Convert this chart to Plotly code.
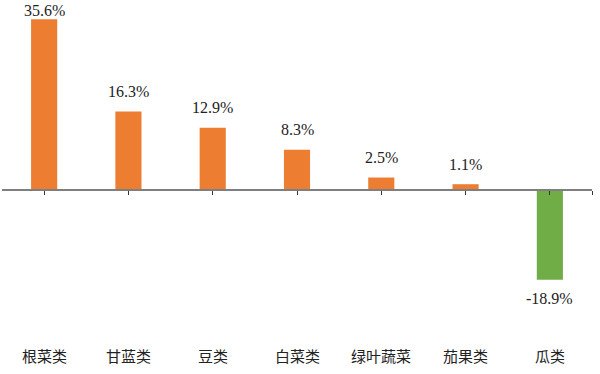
import plotly.graph_objects as go

categories = ["根菜类", "甘蓝类", "豆类", "白菜类", "绿叶蔬菜", "茄果类", "瓜类"]
values = [35.6, 16.3, 12.9, 8.3, 2.5, 1.1, -18.9]
labels = ["35.6%", "16.3%", "12.9%", "8.3%", "2.5%", "1.1%", "-18.9%"]

POS_COLOR = "#ED7D31"
NEG_COLOR = "#70AD47"

ymin, ymax = -31.5, 38.6
zero_pos = (0 - ymin) / (ymax - ymin)
n = len(categories)

fig = go.Figure()
fig.add_trace(go.Bar(
    x=list(range(n)),
    y=values,
    width=0.31,
    marker=dict(color=[POS_COLOR if v >= 0 else NEG_COLOR for v in values], line=dict(width=0)),
    hoverinfo="skip",
))

vmax = max(values)
for i, (v, t) in enumerate(zip(values, labels)):
    if v >= 0:
        shift = 9 if v == vmax else 20
    else:
        shift = -19
    fig.add_annotation(
        x=i, y=v, text=t, showarrow=False, yshift=shift,
        font=dict(family="Liberation Serif, DejaVu Serif, serif", size=16, color="#222"),
        xref="x", yref="y",
    )

for i, c in enumerate(categories):
    fig.add_annotation(
        x=i, y=0, text=c, showarrow=False, xref="x", yref="paper",
        yanchor="middle", yshift=-15,
        font=dict(family="Noto Sans CJK SC", size=15, color="#222"),
    )

fig.update_layout(
    width=600, height=374,
    margin=dict(l=2, r=8, t=5, b=34),
    paper_bgcolor="white", plot_bgcolor="white",
    showlegend=False,
    hovermode=False,
    xaxis=dict(
        anchor="free", position=zero_pos,
        range=[-0.5, n - 0.5],
        tickmode="array",
        tickvals=list(range(n)) + [n - 0.5],
        showticklabels=False,
        showline=True, linecolor="#7f7f7f", linewidth=1.5,
        ticks="outside", ticklen=4, tickcolor="#333", tickwidth=1,
        showgrid=False, zeroline=False,
    ),
    yaxis=dict(range=[ymin, ymax], visible=False, showgrid=False, zeroline=False),
)

fig.write_html(
    "out.html",
    config={"displayModeBar": False, "staticPlot": True},
    post_script="document.body.style.margin='0';window.dispatchEvent(new Event('resize'));",
)
